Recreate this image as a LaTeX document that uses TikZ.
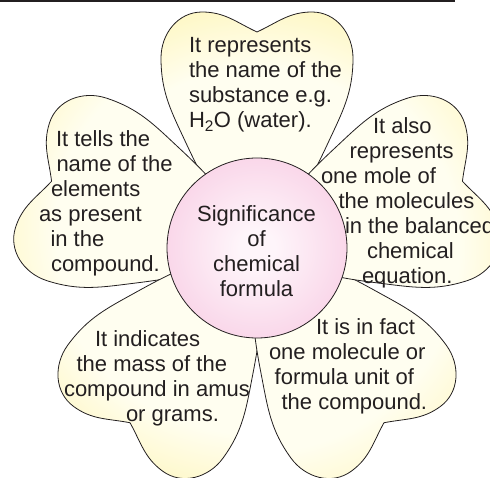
\documentclass[tikz,border=0pt]{standalone}
\usepackage{fontspec}
\setmainfont{Liberation Sans}
\usepackage{xcolor}
\usepackage{tikz}

\definecolor{ink}{RGB}{35,31,32}
\definecolor{petalcore}{RGB}{255,254,240}
\definecolor{petalmid}{RGB}{254,246,188}
\definecolor{petalrim}{RGB}{252,237,148}
\definecolor{pinkcore}{RGB}{254,245,250}
\definecolor{pinkmid}{RGB}{248,205,228}
\definecolor{pinkrim}{RGB}{240,172,208}

\pgfdeclareradialshading{petalglow}{\pgfpoint{0bp}{0bp}}{color(0bp)=(petalcore); color(18bp)=(petalcore); color(26bp)=(petalmid); color(36bp)=(petalrim); color(50bp)=(petalrim)}
\pgfdeclareradialshading{pinkglow}{\pgfpoint{0bp}{0bp}}{color(0bp)=(pinkcore); color(5bp)=(pinkcore); color(32bp)=(pinkmid); color(50bp)=(pinkrim)}

\newcommand\petaloutline{(0,216) to[out=25,in=180] (55,236) to[out=0,in=90] (96,190)
  to[out=-90,in=65] (71,105) to[out=245,in=60] (45,55) -- (-45,55)
  to[out=120,in=-65] (-71,105) to[out=115,in=-90] (-96,190)
  to[out=90,in=180] (-55,236) to[out=0,in=155] (0,216) -- cycle}

\tikzset{
  petal/.pic={
    \begin{scope}
      \clip \petaloutline;
      \shade[shading=petalglow] (0,0) circle (250);
    \end{scope}
    \draw[ink, line width=0.8pt] \petaloutline;
  }
}

\begin{document}
\begin{tikzpicture}[x=1pt, y=1pt,
    note/.style={font=\fontsize{22}{25}\selectfont, text=ink, align=left,
      inner sep=0pt, outer sep=0pt, anchor=north west}]
        \useasboundingbox (0,0) rectangle (490,-478);
        \clip (0,0) rectangle (490,-478);
        \draw[ink, line width=2pt] (0,-1) -- (455,-1);
        \coordinate (hub) at (257,-248);
        \foreach \a in {90,162,234,306,18}
            \pic[rotate=\a-90] at (hub) {petal};
        \node[circle, minimum size=180pt, inner sep=0pt, draw=ink, line width=0.8pt,
            shade, shading=pinkglow] (core) at (hub) {};

        \node[note, align=center, anchor=north] (title) at (256.5,-206) {Significance\\of\\chemical\\formula};
        \node[note] (name) at (189,-37.7) {It represents\\the name of the\\substance e.g.\\H\textsubscript{2}O (water).};
        \node[note] (mole) at (321,-117.1) {\hspace*{52pt}It also\\\hspace*{28.6pt}represents\\one mole of\\\hspace*{17.6pt}the molecules\\\hspace*{24pt}in the balanced\\\hspace*{46pt}chemical\\\hspace*{41pt}equation.};
        \node[note] (elements) at (39,-130.6) {\hspace*{17pt}It tells the\\\hspace*{17.5pt}name of the\\\hspace*{12pt}elements\\as present\\\hspace*{11.5pt}in the\\\hspace*{12pt}compound.};
        \node[note] (mass) at (64,-330.1) {\hspace*{31pt}It indicates\\\hspace*{12.6pt}the mass of the\\compound in amus\\\hspace*{62pt}or grams.};
        \node[note] (unit) at (269,-319) {\hspace*{47pt}It is in fact\\one molecule or\\\hspace*{5.7pt}formula unit of\\\hspace*{12.6pt}the compound.};

    \end{tikzpicture}
\end{document}
